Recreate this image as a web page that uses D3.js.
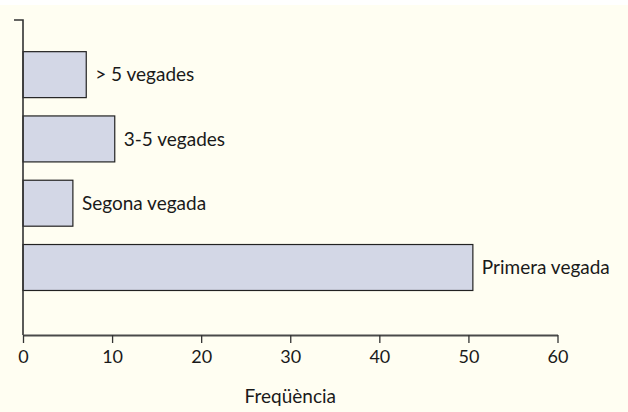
<!DOCTYPE html>
<html><head><meta charset="utf-8">
<script src="https://cdn.jsdelivr.net/npm/d3@7"></script>
<style>
html,body{margin:0;padding:0;background:#fff;}
svg{display:block;}
text{font-family:Lato, "Open Sans", sans-serif;fill:#1a1a1a;}
</style></head>
<body>
<svg id="c" width="628" height="412"></svg>
<script>
const categories = ["Primera vegada", "Segona vegada", "3-5 vegades", "> 5 vegades"];
const values = [50.5, 5.6, 10.3, 7.1];
const xTicks = [0, 10, 20, 30, 40, 50, 60];
const xTitle = "Freqüència";

const svg = d3.select("#c");
svg.append("rect").attr("x", 0).attr("y", 5).attr("width", 628).attr("height", 407).attr("fill", "#fffef2");

const x = d3.scaleLinear().domain([0, 60]).range([23, 557.5]);
const y = d3.scaleLinear().domain([-0.05, 4.85]).range([335, 20]);
const barH = y(0) - y(0.715);

const g = svg.append("g");
g.selectAll("rect.bar").data(values).join("rect")
  .attr("class", "bar")
  .attr("x", x(0))
  .attr("y", (d, i) => y(i + 1) - barH / 2)
  .attr("width", d => x(d) - x(0))
  .attr("height", barH)
  .attr("fill", "#d3d7e6")
  .attr("stroke", "#222")
  .attr("stroke-width", 1.2);

g.selectAll("text.lab").data(values).join("text")
  .attr("class", "lab")
  .attr("x", d => x(d) + 9)
  .attr("y", (d, i) => y(i + 1))
  .attr("dy", "0.35em")
  .attr("font-size", 19)
  .text((d, i) => categories[i]);

// x axis
const xAxis = d3.axisBottom(x).tickValues(xTicks).tickSize(8).tickSizeOuter(0).tickPadding(7);
const ax = svg.append("g").attr("transform", `translate(0,335)`).call(xAxis);
ax.select(".domain").attr("stroke", "#4a4a4a").attr("stroke-width", 2);
ax.selectAll(".tick line").attr("stroke", "#333").attr("stroke-width", 1.3);
ax.selectAll(".tick text").attr("font-size", 18).attr("font-family", "Lato, sans-serif").attr("fill", "#1a1a1a");

// y axis
const yAxis = d3.axisLeft(y).tickValues([]).tickSizeOuter(9);
const ay = svg.append("g").attr("transform", `translate(${x(0)},0)`).call(yAxis);
ay.select(".domain").attr("stroke", "#333").attr("stroke-width", 1.6).attr("fill", "none")
  .attr("d", `M-9,20H0V335`);

svg.append("text").attr("x", x(30)).attr("y", 403).attr("text-anchor", "middle")
  .attr("font-size", 19).text(xTitle);
</script>
</body></html>
